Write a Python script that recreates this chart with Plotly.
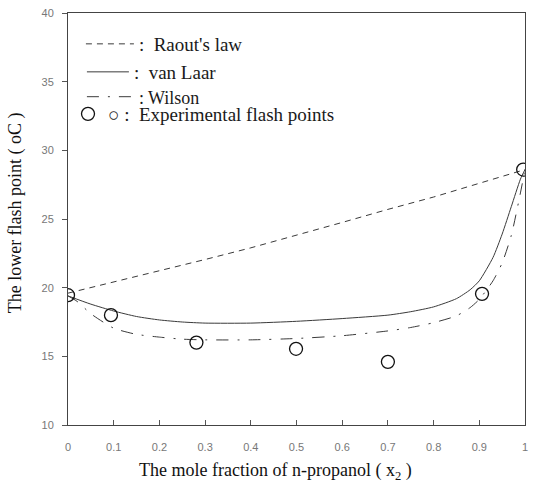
import plotly.graph_objects as go

# Data
exp_x = [0.0, 0.094, 0.281, 0.499, 0.70, 0.906, 0.996]
exp_y = [19.45, 18.0, 16.0, 15.55, 14.6, 19.55, 28.6]

raoult_x = [0.0, 0.1, 0.2, 0.3, 0.4, 0.5, 0.6, 0.7, 0.8, 0.9, 1.0]
raoult_y = [19.6, 20.4, 21.2, 22.05, 22.9, 23.8, 24.75, 25.7, 26.6, 27.6, 28.6]

vanlaar_x = [0.0, 0.05, 0.1, 0.15, 0.2, 0.25, 0.3, 0.4, 0.5, 0.6, 0.7, 0.75, 0.8, 0.85,
             0.88, 0.9, 0.93, 0.95, 0.97, 0.99, 1.0]
vanlaar_y = [19.4, 18.8, 18.3, 17.9, 17.65, 17.5, 17.42, 17.42, 17.55, 17.75, 18.0, 18.25,
             18.6, 19.2, 19.85, 20.5, 22.2, 23.9, 25.9, 27.9, 28.6]

wilson_x = [0.0, 0.02, 0.05, 0.1, 0.15, 0.2, 0.25, 0.3, 0.4, 0.5, 0.6, 0.7, 0.75, 0.8, 0.85,
            0.88, 0.9, 0.93, 0.95, 0.97, 0.99, 1.0]
wilson_y = [19.4, 19.0, 18.1, 17.05, 16.6, 16.4, 16.25, 16.2, 16.2, 16.3, 16.5, 16.85, 17.1,
            17.45, 17.95, 18.55, 19.15, 20.5, 21.8, 23.8, 26.9, 28.6]

x_ticks = [0, 0.1, 0.2, 0.3, 0.4, 0.5, 0.6, 0.7, 0.8, 0.9, 1]
y_ticks = [10, 15, 20, 25, 30, 35, 40]

series_names = [":  Raout's law", ":  van Laar", ": Wilson", "○ :  Experimental flash points"]

LINE = "#3a3a3a"
SERIF = "Liberation Serif, Times New Roman, serif"

W, H = 534, 492
ml, mr, mt, mb = 68, 6, 13, 67
pw, ph = W - ml - mr, H - mt - mb


def px_x(px):
    return (px - ml) / pw


def px_y(py):
    return 1 - (py - mt) / ph


fig = go.Figure()
fig.add_trace(go.Scatter(x=raoult_x, y=raoult_y, mode="lines", name=series_names[0],
                         line=dict(color=LINE, width=1, dash="6px,5px"), legend="legend"))
fig.add_trace(go.Scatter(x=vanlaar_x, y=vanlaar_y, mode="lines", name=series_names[1],
                         line=dict(color=LINE, width=1, shape="spline", smoothing=0.6),
                         legend="legend2"))
fig.add_trace(go.Scatter(x=wilson_x, y=wilson_y, mode="lines", name=series_names[2],
                         line=dict(color=LINE, width=1, dash="12px,9px,2px,9px",
                                   shape="spline", smoothing=0.6),
                         legend="legend3"))
fig.add_trace(go.Scatter(x=exp_x, y=exp_y, mode="markers", name=series_names[3],
                         marker=dict(symbol="circle-open", size=13, color="#111",
                                     line=dict(width=1.3, color="#111")),
                         legend="legend4"))


def legend_style(size):
    return dict(bgcolor="rgba(0,0,0,0)", borderwidth=0, xanchor="left", yanchor="middle",
                font=dict(family=SERIF, size=size, color="#1a1a1a"), tracegroupgap=0)


fig.update_layout(
    width=W, height=H,
    margin=dict(l=ml, r=mr, t=mt, b=mb),
    paper_bgcolor="white", plot_bgcolor="white",
    showlegend=True,
    legend=dict(x=px_x(81), y=px_y(44), itemwidth=48, **legend_style(19)),
    legend2=dict(x=px_x(82), y=px_y(72), itemwidth=42, **legend_style(19)),
    legend3=dict(x=px_x(82), y=px_y(97), itemwidth=47, **legend_style(18)),
    legend4=dict(x=px_x(68), y=px_y(114), itemwidth=30, **legend_style(19)),
    xaxis=dict(range=[0, 1], tickvals=x_ticks, ticks="inside", ticklen=5, tickcolor="#555",
               showline=True, linecolor="#444", linewidth=1, mirror=True, showgrid=False,
               zeroline=False, tickfont=dict(family="Liberation Sans, Arial", size=11, color="#777"),
               ticklabelstandoff=12),
    yaxis=dict(range=[10, 40], tickvals=y_ticks, ticks="outside", ticklen=5, tickcolor="#555",
               showline=True, linecolor="#444", linewidth=1, mirror=True, showgrid=False,
               zeroline=False, tickfont=dict(family="Liberation Sans, Arial", size=11, color="#777"),
               ticklabelstandoff=6),
    annotations=[
        dict(text="The mole fraction of n-propanol ( x<sub>2</sub> )", xref="paper", yref="paper",
             x=px_x(277), y=px_y(471), xanchor="center", yanchor="middle",
             showarrow=False, font=dict(family=SERIF, size=18, color="#111")),
        dict(text="The lower flash point ( oC )", xref="paper", yref="paper",
             x=px_x(15), y=px_y(213), xanchor="center", yanchor="middle",
             textangle=-90, showarrow=False, font=dict(family=SERIF, size=18, color="#111")),
    ],
)

fig.write_html(
    "out.html",
    config={"displayModeBar": False},
    post_script="document.body.style.margin='0px';document.body.style.overflow='hidden';",
)
